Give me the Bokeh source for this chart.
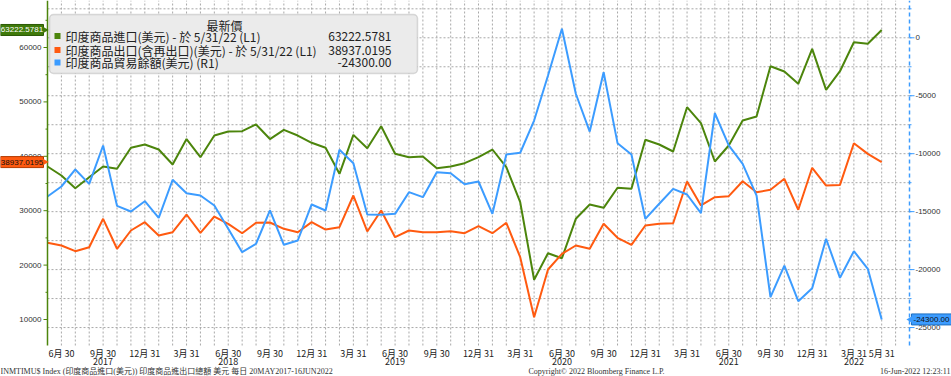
import math
import pandas as pd
from bokeh.plotting import figure
from bokeh.models import Range1d, Label, BoxAnnotation
from bokeh.core.properties import value
from bokeh.embed import file_html
from bokeh.resources import INLINE

# ---------------- data ----------------
dates = pd.date_range("2017-05-31", periods=61, freq="ME")

imports = [38130, 36470, 34140, 36160, 38130, 37700, 41560, 42170, 41250, 38490,
           43170, 39840, 43820, 44560, 44620, 45850, 43170, 44870, 43820, 42480,
           41560, 36780, 43940, 41490, 45530, 40460, 39840, 39960, 37810, 38130,
           38740, 39840, 41250, 38000, 31560, 17300, 22190, 21270, 28510, 31140,
           30530, 34210, 34030, 43030, 42170, 40880, 49030, 46090, 39040, 41990,
           46580, 47320, 56560, 55590, 53330, 59760, 52220, 55640, 60970, 60680,
           63222.5781]

exports = [24100, 23600, 22560, 23290, 28510, 23000, 26360, 27890, 25440, 26050,
           29300, 25940, 28930, 27590, 25860, 27780, 27830, 26670, 26050, 27890,
           26540, 26970, 32790, 26180, 30040, 25130, 26360, 26050, 26050, 26230,
           25860, 27150, 25860, 27780, 21450, 10420, 19190, 22060, 23600, 23000,
           27590, 25020, 23730, 27280, 27590, 27700, 35370, 30960, 32480, 32670,
           35420, 33400, 33840, 35860, 30170, 37890, 34630, 34740, 42410, 40440,
           38937.0195]

balance = [-13690, -12830, -11360, -12600, -9290, -14500, -14990, -14100, -15530, -12250,
           -13410, -13610, -14470, -16480, -18500, -17770, -14900, -17860, -17490, -14380,
           -14900, -9660, -10820, -15250, -15270, -15190, -13320, -13750, -11600, -11680,
           -12630, -12400, -15190, -10070, -9920, -7140, -3250, 780, -4830, -8090,
           -2970, -9090, -10070, -15620, -14320, -13030, -13520, -15130, -6510, -9290,
           -10870, -13610, -22380, -19650, -22730, -21610, -17340, -20710, -18410, -19930,
           -24300.00]

series_names = ["印度商品進口(美元) - 於 5/31/22  (L1)",
                "印度商品出口(含再出口)(美元) - 於 5/31/22  (L1)",
                "印度商品貿易餘額(美元) (R1)"]
legend_title = "最新價"

left_limits = (5221, 68640)        # L1 axis extent
right_limits = (-26549, 3218)      # R1 axis extent
left_ticks = [10000, 20000, 30000, 40000, 50000, 60000]
left_minor = [15000, 25000, 35000, 45000, 55000, 65000]
right_ticks = [0, -5000, -10000, -15000, -20000, -25000]
right_grid = [2500, 0, -2500, -5000, -7500, -10000, -12500, -15000, -17500, -20000, -22500, -25000]

footer_left = "INMTIMU$ Index (印度商品進口(美元)) 印度商品進出口總額 美元  每日  20MAY2017-16JUN2022"
footer_mid = "Copyright© 2022 Bloomberg Finance L.P."
footer_right = "16-Jun-2022 12:23:11"

# ---------------- style / layout ----------------
GREEN = "#4c850c"
GREEN_TAG = "#3f7a0a"
ORANGE = "#ff5a10"
BLUE = "#3c9cff"
GRID = "#a8a8a8"
TXT = "#333333"
CJK = "'Noto Sans CJK TC'"
NUM = "'Liberation Sans'"
SERIF = "'Liberation Serif', 'Noto Sans CJK TC'"

W, H = 951, 376
PLOT_L, PLOT_R, PLOT_T, PLOT_B = 47, 909, 0, 345   # plot area inside the canvas (px)

x = list(range(len(dates)))
n_slots = len(dates) + 1           # time axis runs two months past the last point
px_per_x = (PLOT_R - PLOT_L) / n_slots
X0 = -PLOT_L / px_per_x
X1 = n_slots + (W - PLOT_R) / px_per_x


def x_at(px):
    return X0 + px / px_per_x


def extended(lo, hi):
    per = (hi - lo) / (PLOT_B - PLOT_T)
    return Range1d(lo - (H - PLOT_B) * per, hi + PLOT_T * per)


y_left = extended(*left_limits)
y_right = extended(*right_limits)

tick_idx = [i for i, d in enumerate(dates) if d.month % 3 == 0] + [len(dates) - 1]
tick_lab = [f"{dates[i].month}月 {dates[i].day}" for i in tick_idx]
by_year = {}
for i in tick_idx:
    by_year.setdefault(dates[i].year, []).append(i)
year_pos = [idxs[(len(idxs) - 1) // 2] for idxs in by_year.values()]
year_lab = [str(y) for y in by_year.keys()]

p = figure(width=W, height=H, x_range=Range1d(X0, X1), y_range=y_left,
           output_backend="svg", toolbar_location=None,
           x_axis_location=None, y_axis_location=None, min_border=0)
p.extra_y_ranges = {"right": y_right}
p.outline_line_color = None
p.background_fill_color = "white"
p.border_fill_color = "white"
p.grid.visible = False

# ---- dotted grid (monthly verticals, R1 horizontals every 2500) ----
months = list(range(1, n_slots))
p.segment(x0=months, y0=[left_limits[0]] * len(months), x1=months,
          y1=[left_limits[1]] * len(months), line_color=GRID, line_dash="2 2", line_width=1)
p.segment(x0=[0] * len(right_grid), y0=right_grid, x1=[n_slots] * len(right_grid),
          y1=right_grid, y_range_name="right", line_color=GRID, line_dash="2 2", line_width=1)

# ---- series ----
p.line(x, imports, color=GREEN, line_width=2)
p.line(x, exports, color=ORANGE, line_width=2)
p.line(x, balance, color=BLUE, line_width=2, y_range_name="right")

# ---- L1 axis ----
p.segment(x0=[0], y0=[left_limits[0]], x1=[0], y1=[left_limits[1]], line_color=GREEN, line_width=1.5)
p.ray(x=[0] * len(left_ticks), y=left_ticks, length=4, length_units="screen",
      angle=math.pi, line_color=GREEN, line_width=1)
p.ray(x=[0] * len(left_minor), y=left_minor, length=2, length_units="screen",
      angle=math.pi, line_color=GREEN, line_width=1)
p.text(x=[0] * len(left_ticks), y=left_ticks, text=[str(t) for t in left_ticks],
       x_offset=-6, text_align="right", text_baseline="middle", text_font=value(NUM),
       text_font_size=value("8px"), text_color=TXT)

# ---- R1 axis ----
p.segment(x0=[n_slots], y0=[right_limits[0]], x1=[n_slots], y1=[right_limits[1]],
          y_range_name="right", line_color=BLUE, line_width=1.5, line_dash="4 3")
p.ray(x=[n_slots] * len(right_ticks), y=right_ticks, length=5, length_units="screen",
      angle=0, y_range_name="right", line_color=BLUE, line_width=1)
p.ray(x=[n_slots] * len(right_grid), y=right_grid, length=2, length_units="screen",
      angle=0, y_range_name="right", line_color=BLUE, line_width=1)
p.text(x=[n_slots] * len(right_ticks), y=right_ticks, text=[str(t) for t in right_ticks],
       x_offset=6, text_align="left", text_baseline="middle", y_range_name="right",
       text_font=value(NUM), text_font_size=value("8px"), text_color=TXT)

# ---- time axis labels ----
p.text(x=tick_idx, y=[left_limits[0]] * len(tick_idx), text=tick_lab, y_offset=1,
       text_align="center", text_baseline="top", text_font=value(CJK),
       text_font_size=value("9px"), text_color="#222222")
p.text(x=year_pos, y=[left_limits[0]] * len(year_pos), text=year_lab, y_offset=12,
       text_align="center", text_baseline="top", text_font=value(CJK),
       text_font_size=value("9px"), text_color="#222222")

# ---- last-value tags ----
tag_x = x_at(21.5)
p.rect(x=[tag_x] * 2, y=[imports[-1], exports[-1]], width=43, height=11,
       width_units="screen", height_units="screen", fill_color=[GREEN_TAG, ORANGE],
       line_color=["#2c5a05", "#b33a00"], line_width=1)
p.scatter(x=[x_at(43.5)] * 2, y=[imports[-1], exports[-1]], marker="triangle", size=8,
          angle=-math.pi / 2, fill_color=[GREEN_TAG, ORANGE], line_color=None)
p.text(x=[tag_x] * 2, y=[imports[-1], exports[-1]],
       text=[f"{imports[-1]:.4f}", f"{exports[-1]:.4f}"], text_align="center",
       text_baseline="middle", text_font=value(NUM), text_font_size=value("8px"),
       text_color=["white", "#111111"])
rtag_x = x_at(931)
p.rect(x=[rtag_x], y=[balance[-1]], width=40, height=11, width_units="screen",
       height_units="screen", y_range_name="right", fill_color=BLUE,
       line_color="#1f6fc0", line_width=1)
p.scatter(x=[x_at(910.5)], y=[balance[-1]], marker="triangle", size=8, angle=math.pi / 2,
          y_range_name="right", fill_color=BLUE, line_color=None)
p.text(x=[rtag_x], y=[balance[-1]], text=[f"{balance[-1]:.2f}"], y_range_name="right",
       text_align="center", text_baseline="middle", text_font=value(NUM),
       text_font_size=value("8px"), text_color="#111111")

# ---- legend box (screen units from the canvas bottom-left) ----
def sy(px):
    return H - px


p.add_layout(BoxAnnotation(left=49, right=417, top=sy(14), bottom=sy(73),
                           left_units="screen", right_units="screen",
                           top_units="screen", bottom_units="screen",
                           fill_color="#ebebeb", fill_alpha=1, line_color="#8e8e8e",
                           line_width=1.5, border_radius=4))
p.add_layout(Label(x=224, y=sy(25), x_units="screen", y_units="screen", text=legend_title,
                   text_align="center", text_baseline="middle", text_font=CJK,
                   text_font_size="12px", text_color="#222222"))
row_px = [35.5, 49.5, 62]
vals = [f"{imports[-1]:.4f}", f"{exports[-1]:.4f}", f"{balance[-1]:.2f}"]
for rp, name, col, v in zip(row_px, series_names, [GREEN, ORANGE, BLUE], vals):
    p.add_layout(BoxAnnotation(left=54, right=60, top=sy(rp - 3), bottom=sy(rp + 3),
                               left_units="screen", right_units="screen",
                               top_units="screen", bottom_units="screen",
                               fill_color=col, fill_alpha=1, line_color=None))
    p.add_layout(Label(x=65, y=sy(rp), x_units="screen", y_units="screen", text=name,
                       text_align="left", text_baseline="middle", text_font=CJK,
                       text_font_size="12px", text_color="#222222"))
    p.add_layout(Label(x=391, y=sy(rp), x_units="screen", y_units="screen", text=v,
                       text_align="right", text_baseline="middle", text_font=CJK,
                       text_font_size="12px", text_color="#222222"))

# ---- footer ----
p.text(x=[x_at(0), x_at(596), x_at(W - 1)], y=[left_limits[0]] * 3,
       text=[footer_left, footer_mid, footer_right], y_offset=26,
       text_align=["left", "center", "right"], text_baseline="middle",
       text_font=value(SERIF), text_font_size=value("8px"), text_color=TXT)

open("out.html", "w").write(file_html(p, INLINE))
